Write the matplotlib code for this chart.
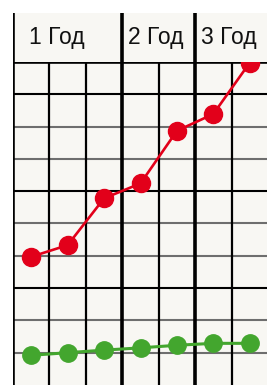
import matplotlib.pyplot as plt

# values (grid unit = one row)
periods = [1, 2, 3, 4, 5, 6, 7]
red_vals = [3.97, 4.33, 5.78, 6.24, 7.87, 8.39, 9.98]
green_vals = [0.92, 1.0, 1.08, 1.15, 1.23, 1.29, 1.29]
year_labels = ['1 Год', '2 Год', '3 Год']
year_spans = [3, 2, 2]

W, H = 267, 385
bg = '#f8f7f3'
red = '#e2001a'
green = '#43a62e'

fig = plt.figure(figsize=(W / 100, H / 100), dpi=100)
fig.patch.set_facecolor('white')

x0 = 13 / W
x1 = 268 / W
head_top = 13
head_bot = 62

# main plot area
ax = fig.add_axes([x0, 0, x1 - x0, (H - head_bot) / H])
ax.set_facecolor(bg)
ax.set_xlim(0, len(periods))
ax.set_ylim(0, 10)
for s in ax.spines.values():
    s.set_visible(False)
ax.set_xticks([])
ax.set_yticks([])

# horizontal grid, every third one black
for y in range(1, 10):
    col = 'black' if y % 3 == 0 else '#6e6e6e'
    ax.axhline(y, color=col, lw=1.5, zorder=1, solid_capstyle='butt')

# column lines, thick at year borders
bounds = [0]
for s in year_spans:
    bounds.append(bounds[-1] + s)
for x in range(0, len(periods)):
    lw = 2.6 if x in bounds else 1.6
    ax.axvline(x, color='black', lw=lw, zorder=1, solid_capstyle='butt')
ax.axhline(10, color='black', lw=2.6, zorder=2, clip_on=False, solid_capstyle='butt')

xs = [p - 0.5 for p in periods]
ax.plot(xs, red_vals, color=red, lw=1.9, marker='o', ms=13, zorder=3, clip_on=False)
ax.plot(xs, green_vals, color=green, lw=2.2, marker='o', ms=12.5, zorder=3, clip_on=False)

# header with year groups
hx = fig.add_axes([x0, (H - head_bot) / H, x1 - x0, (head_bot - head_top) / H])
hx.set_facecolor(bg)
hx.set_xlim(0, len(periods))
hx.set_ylim(0, 1)
for s in hx.spines.values():
    s.set_visible(False)
hx.set_xticks([])
hx.set_yticks([])
for b in bounds[:-1]:
    hx.axvline(b, color='black', lw=2.6, solid_capstyle='butt')

text_x = [0.45, 3.15, 5.16]
for lab, tx in zip(year_labels, text_x):
    hx.text(tx, 0.5, lab, ha='left', va='center', fontsize=16.5,
            family='Liberation Sans', color='#111111')

fig.savefig('out.png', dpi=100, facecolor='white')
